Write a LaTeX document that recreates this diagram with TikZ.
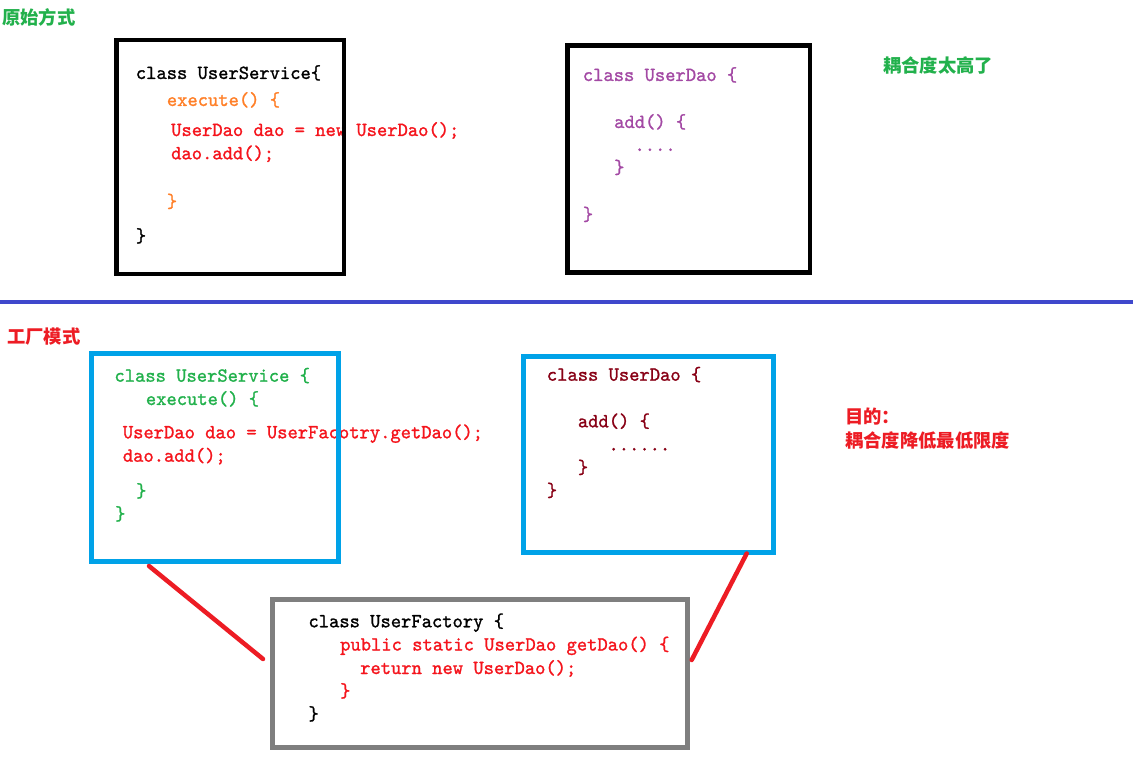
\documentclass[tikz,border=0pt]{standalone}
\usepackage{fontspec}
\newfontfamily\codefont[FakeStretch=0.98,FakeBold=1.2]{lmmono10-regular.otf}
\newfontfamily\cjk{Noto Sans CJK SC}
\definecolor{lblgreen}{RGB}{34,177,76}
\definecolor{lblred}{RGB}{237,28,36}
\definecolor{codered}{RGB}{245,20,28}
\definecolor{codeorange}{RGB}{255,127,39}
\definecolor{codepurple}{RGB}{163,73,164}
\definecolor{codedarkred}{RGB}{136,0,21}
\definecolor{codegreen}{RGB}{34,177,76}
\definecolor{boxblue}{RGB}{0,162,232}
\definecolor{sepblue}{RGB}{63,72,204}
\definecolor{boxgray}{RGB}{127,127,127}
\tikzset{
  code/.style={anchor=base west, inner sep=0pt, font=\codefont\fontsize{20}{24}\selectfont},
  cjklabel/.style={anchor=west, inner sep=0pt, font=\cjk\bfseries\fontsize{18.3}{22}\selectfont},
  codebox/.style={draw, rectangle, inner sep=0pt, fill=none},
  linkline/.style={draw=lblred, line width=4.5pt, line cap=round},
}
\begin{document}
\begin{tikzpicture}[x=1pt,y=-1pt]
\fill[white] (0,0) rectangle (1133,775);
\useasboundingbox (0,0) rectangle (1133,775);

% labels
\node[cjklabel, text=lblgreen] (lblA) at (2,17) {原始方式};
\node[cjklabel, text=lblgreen] (lblB) at (883,65.5) {耦合度太高了};
\node[cjklabel, text=lblred] (lblC) at (7,336.5) {工厂模式};
\node[cjklabel, text=lblred] (lblD) at (845,416.7) {目的：};
\node[cjklabel, text=lblred] (lblE) at (845,441) {耦合度降低最低限度};

% separator
\coordinate (sepL) at (0,302);
\coordinate (sepR) at (1133,302);
\draw[sepblue, line width=4pt] (sepL) -- (sepR);

% top-left code
\node[code, text=black] (a1) at (135.7,79) {class UserService\{};
\node[code, text=codeorange] (a2) at (166.7,106) {execute() \{};
\node[code, text=codered] (a3) at (171,136) {UserDao dao = new UserDao();};
\node[code, text=codered] (a4) at (171,159.3) {dao.add();};
\node[code, text=codeorange] (a5) at (166.7,207.5) {\}};
\node[code, text=black] (a6) at (135.7,242) {\}};

% top-right code
\node[code, text=codepurple] (b1) at (582.7,81) {class UserDao \{};
\node[code, text=codepurple] (b2) at (614,128) {add() \{};
\node[code, text=codepurple] (b3) at (634.3,151) {....};
\node[code, text=codepurple] (b4) at (614,173.5) {\}};
\node[code, text=codepurple] (b5) at (582.7,220.5) {\}};

% bottom-left code
\node[code, text=codegreen] (c1) at (114.3,381.7) {class UserService \{};
\node[code, text=codegreen] (c2) at (145.7,405) {execute() \{};
\node[code, text=codered] (c3) at (122.7,438.3) {UserDao dao = UserFacotry.getDao();};
\node[code, text=codered] (c4) at (122.7,461.7) {dao.add();};
\node[code, text=codegreen] (c5) at (136,497) {\}};
\node[code, text=codegreen] (c6) at (115,520) {\}};

% bottom-right code
\node[code, text=codedarkred] (d1) at (546.7,380.7) {class UserDao \{};
\node[code, text=codedarkred] (d2) at (577.7,427.3) {add() \{};
\node[code, text=codedarkred] (d3) at (608.3,450.5) {......};
\node[code, text=codedarkred] (d4) at (577.7,473.5) {\}};
\node[code, text=codedarkred] (d5) at (546.7,496.5) {\}};

% factory code
\node[code, text=black] (e1) at (308.3,627.3) {class UserFactory \{};
\node[code, text=codered] (e2) at (340,650.5) {public static UserDao getDao() \{};
\node[code, text=codered] (e3) at (360,674) {return new UserDao();};
\node[code, text=codered] (e4) at (340,697) {\}};
\node[code, text=black] (e5) at (308.3,720) {\}};

% boxes
\node[codebox, draw=black, line width=4.5pt, minimum width=227.5pt, minimum height=234pt] (topSvc) at (230.25,157) {};
\node[codebox, draw=black, line width=4.5pt, minimum width=242.5pt, minimum height=227pt] (topDao) at (688.75,159) {};
\node[codebox, draw=boxblue, line width=5pt, minimum width=247.5pt, minimum height=207pt] (botSvc) at (214.75,457.5) {};
\node[codebox, draw=boxblue, line width=5pt, minimum width=250pt, minimum height=195.5pt] (botDao) at (648,454.25) {};
\node[codebox, draw=boxgray, line width=5pt, minimum width=415pt, minimum height=148.5pt] (factory) at (480,673.25) {};

% connectors
\coordinate (l1a) at (149,566);
\coordinate (l1b) at (263,659);
\coordinate (l2a) at (746.7,553.5);
\coordinate (l2b) at (691.7,660);
\draw[linkline] (l1a) -- (l1b);
\draw[linkline] (l2a) -- (l2b);
\end{tikzpicture}
\end{document}
